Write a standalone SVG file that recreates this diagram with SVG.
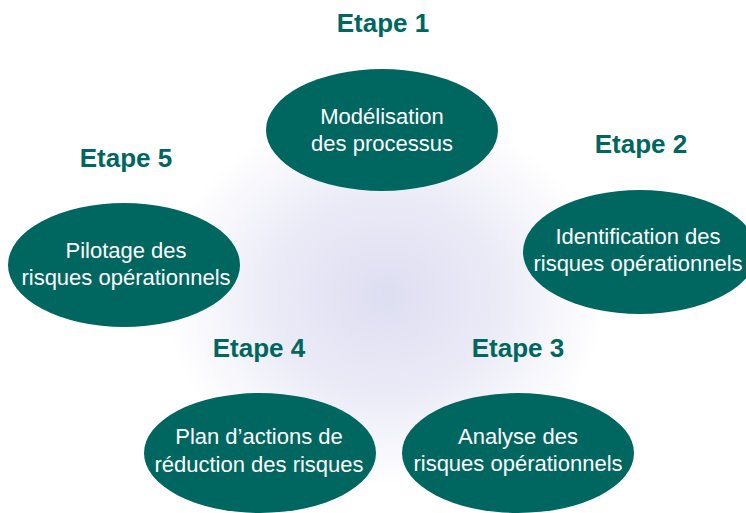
<svg xmlns="http://www.w3.org/2000/svg" width="746" height="513" viewBox="0 0 746 513">
<defs>
<radialGradient id="glow" cx="0.5" cy="0.5" r="0.5">
<stop offset="0" stop-color="#dedef2"/>
<stop offset="0.5" stop-color="#eaeaf7"/>
<stop offset="1" stop-color="#ffffff"/>
</radialGradient>
</defs>
<style>
.node ellipse{fill:#006660;}
.node text{fill:#ffffff;font-family:"Liberation Sans",Arial,sans-serif;font-size:22px;text-anchor:middle;}
.step{fill:#006660;font-family:"Liberation Sans",Arial,sans-serif;font-size:26px;font-weight:bold;text-anchor:middle;}
</style>
<rect width="746" height="513" fill="#ffffff"/>
<ellipse cx="385" cy="295" rx="220" ry="190" fill="url(#glow)"/>
<g id="connectors"></g>
<g id="labels">
<text class="step" x="383" y="32">Etape 1</text>
<text class="step" x="641" y="153">Etape 2</text>
<text class="step" x="518" y="357">Etape 3</text>
<text class="step" x="259" y="357">Etape 4</text>
<text class="step" x="126" y="167">Etape 5</text>
</g>
<g id="node1" class="node">
<ellipse cx="382" cy="130" rx="116" ry="61"/>
<text x="382" y="124">Modélisation</text>
<text x="382" y="151">des processus</text>
</g>
<g id="node2" class="node">
<ellipse cx="640" cy="252" rx="117" ry="62"/>
<text x="638" y="244">Identification des</text>
<text x="638" y="271">risques opérationnels</text>
</g>
<g id="node3" class="node">
<ellipse cx="518" cy="453" rx="116" ry="60"/>
<text x="518" y="444">Analyse des</text>
<text x="518" y="471">risques opérationnels</text>
</g>
<g id="node4" class="node">
<ellipse cx="260" cy="453" rx="116" ry="60"/>
<text x="259" y="444">Plan d’actions de</text>
<text x="259" y="472">réduction des risques</text>
</g>
<g id="node5" class="node">
<ellipse cx="124" cy="265" rx="116" ry="62"/>
<text x="126" y="258">Pilotage des</text>
<text x="126" y="285">risques opérationnels</text>
</g>
</svg>
